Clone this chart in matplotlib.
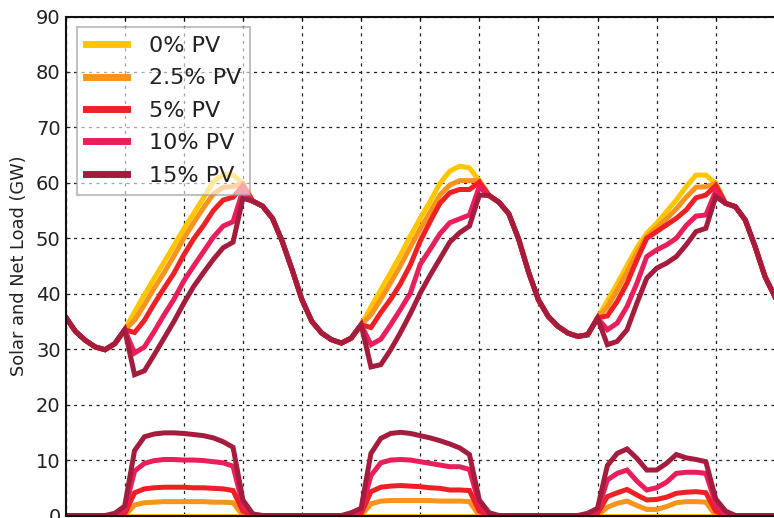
import matplotlib
matplotlib.use("Agg")
import matplotlib.pyplot as plt
import numpy as np

hours = list(range(73))

labels = ["0% PV", "2.5% PV", "5% PV", "10% PV", "15% PV"]
colors = ["#FFC600", "#F7941D", "#EE2026", "#E91E5A", "#A51C3C"]

load = [35.8, 33.2, 31.6, 30.4, 29.9, 31.0, 33.5, 36.7, 39.8, 42.8, 45.7, 48.7, 51.7, 54.5, 57.3, 60.2, 61.5, 61.4, 59.9,
        56.7, 55.8, 53.6, 49.4, 44.3, 38.9, 35.0, 32.9, 31.7, 31.1, 32.0,
        34.4, 37.6, 40.7, 43.8, 47.0, 50.4, 53.6, 56.6, 59.9, 62.1, 63.0, 62.7, 60.4,
        57.7, 56.5, 54.4, 49.8, 43.9, 38.9, 35.9, 34.1, 32.9, 32.3, 32.6,
        35.6, 38.7, 41.8, 45.1, 48.3, 50.9, 52.7, 54.8, 56.9, 59.3, 61.4, 61.4, 59.9,
        56.3, 55.7, 53.3, 48.5, 43.1, 39.5]

net_2_5 = [35.8, 33.2, 31.6, 30.4, 29.9, 31.0, 33.5, 35.2, 38.0, 41.0, 43.8, 46.8, 50.0, 52.8, 55.5, 58.0, 59.2, 59.3, 59.9,
           56.7, 55.8, 53.6, 49.4, 44.3, 38.9, 35.0, 32.9, 31.7, 31.1, 32.0,
           34.4, 36.2, 39.0, 42.0, 45.1, 48.4, 51.7, 54.7, 57.8, 59.6, 60.4, 60.4, 60.4,
           57.7, 56.5, 54.4, 49.8, 43.9, 38.9, 35.9, 34.1, 32.9, 32.3, 32.6,
           35.6, 37.6, 40.6, 43.9, 47.3, 50.3, 51.9, 53.5, 55.3, 57.4, 59.2, 59.3, 59.9,
           56.3, 55.7, 53.3, 48.5, 43.1, 39.5]

net_5 = [35.8, 33.2, 31.6, 30.4, 29.9, 31.0, 33.5, 33.0, 35.2, 38.2, 41.0, 43.7, 47.0, 49.9, 52.3, 55.0, 56.9, 57.4, 59.5,
         56.7, 55.8, 53.6, 49.4, 44.3, 38.9, 35.0, 32.9, 31.7, 31.1, 32.0,
         34.4, 33.9, 36.6, 39.0, 41.8, 45.2, 49.5, 53.0, 56.3, 58.2, 58.8, 58.8, 60.1,
         57.7, 56.5, 54.4, 49.8, 43.9, 38.9, 35.9, 34.1, 32.9, 32.3, 32.6,
         35.6, 36.0, 38.6, 41.9, 46.1, 50.0, 51.2, 52.4, 53.6, 55.1, 57.3, 57.8, 59.5,
         56.3, 55.7, 53.3, 48.5, 43.1, 39.5]

net_10 = [35.8, 33.2, 31.6, 30.4, 29.9, 31.0, 33.5, 29.3, 30.4, 33.2, 36.2, 39.0, 42.3, 45.0, 47.6, 50.2, 52.2, 53.0, 58.6,
          56.7, 55.8, 53.6, 49.4, 44.3, 38.9, 35.0, 32.9, 31.7, 31.1, 32.0,
          34.4, 30.8, 31.8, 34.4, 37.2, 40.1, 45.3, 48.0, 50.8, 52.8, 53.5, 54.2, 59.3,
          57.7, 56.5, 54.4, 49.8, 43.9, 38.9, 35.9, 34.1, 32.9, 32.3, 32.6,
          35.6, 33.5, 34.7, 37.7, 41.9, 46.7, 47.9, 48.8, 50.0, 52.3, 54.0, 54.2, 58.5,
          56.3, 55.7, 53.3, 48.5, 43.1, 39.5]

net_15 = [35.8, 33.2, 31.6, 30.4, 29.9, 31.0, 33.5, 25.4, 26.1, 29.0, 32.0, 35.0, 38.3, 41.3, 43.8, 46.2, 48.3, 49.3, 57.2,
          56.7, 55.8, 53.6, 49.4, 44.3, 38.9, 35.0, 32.9, 31.7, 31.1, 32.0,
          34.4, 26.8, 27.2, 29.9, 33.0, 36.4, 40.1, 43.3, 46.3, 49.3, 51.0, 52.2, 57.8,
          57.7, 56.5, 54.4, 49.8, 43.9, 38.9, 35.9, 34.1, 32.9, 32.3, 32.6,
          35.6, 30.8, 31.4, 33.5, 38.3, 42.8, 44.6, 45.5, 46.7, 48.8, 51.2, 51.8, 57.5,
          56.3, 55.7, 53.3, 48.5, 43.1, 39.5]

solar_0 = [0.0] * 73

solar_2_5 = [0, 0, 0, 0, 0, 0, 0, 1.9, 2.3, 2.4, 2.5, 2.5, 2.5, 2.5, 2.5, 2.4, 2.4, 2.3, 0,
             0, 0, 0, 0, 0, 0, 0, 0, 0, 0, 0,
             0, 2.1, 2.6, 2.7, 2.7, 2.7, 2.7, 2.7, 2.6, 2.6, 2.6, 2.5, 0,
             0, 0, 0, 0, 0, 0, 0, 0, 0, 0, 0,
             0, 1.5, 2.2, 2.6, 1.8, 1.1, 1.1, 1.6, 2.3, 2.5, 2.5, 2.4, 0,
             0, 0, 0, 0, 0, 0]

solar_5 = [0, 0, 0, 0, 0, 0, 0.3, 4.1, 4.8, 5.0, 5.1, 5.1, 5.1, 5.0, 5.0, 4.9, 4.8, 4.5, 0.8,
           0, 0, 0, 0, 0, 0, 0, 0, 0, 0, 0,
           0.4, 4.3, 5.1, 5.3, 5.4, 5.3, 5.2, 5.0, 4.9, 4.6, 4.6, 4.5, 0.8,
           0, 0, 0, 0, 0, 0, 0, 0, 0, 0, 0,
           0.4, 3.4, 4.1, 4.7, 3.7, 2.8, 2.9, 3.3, 4.0, 4.2, 4.3, 4.1, 0.8,
           0, 0, 0, 0, 0, 0]

solar_10 = [0, 0, 0, 0, 0, 0, 1.0, 8.0, 9.4, 9.9, 10.1, 10.1, 10.0, 10.0, 9.9, 9.7, 9.5, 8.9, 1.8,
            0, 0, 0, 0, 0, 0, 0, 0, 0, 0, 0,
            0.8, 7.2, 9.5, 10.0, 10.1, 10.0, 9.7, 9.4, 9.1, 8.8, 8.8, 8.3, 2.0,
            0, 0, 0, 0, 0, 0, 0, 0, 0, 0, 0,
            0.8, 6.4, 7.6, 8.2, 6.2, 4.6, 5.0, 6.0, 7.6, 7.8, 7.8, 7.6, 2.2,
            0, 0, 0, 0, 0, 0]

solar_15 = [0, 0, 0, 0, 0, 0.4, 1.7, 11.7, 14.2, 14.7, 14.9, 14.9, 14.8, 14.6, 14.4, 14.0, 13.3, 12.3, 2.8,
            0.3, 0, 0, 0, 0, 0, 0, 0, 0, 0, 0.5,
            1.3, 11.2, 13.9, 14.8, 15.0, 14.8, 14.4, 14.0, 13.5, 12.9, 12.2, 11.0, 2.8,
            0.5, 0, 0, 0, 0, 0, 0, 0, 0, 0, 0.4,
            1.3, 9.0, 11.2, 12.0, 10.3, 8.2, 8.2, 9.4, 11.0, 10.4, 10.1, 9.7, 3.0,
            0.8, 0, 0, 0, 0, 0]

y_ticks = [0, 10, 20, 30, 40, 50, 60, 70, 80, 90]

nets = [load, net_2_5, net_5, net_10, net_15]
solars = [solar_0, solar_2_5, solar_5, solar_10, solar_15]

fig = plt.figure(figsize=(7.74, 5.18), dpi=100)
W, H = 774.0, 518.0
px_per_h = 9.85
x_end = 76
ax = fig.add_axes([65.6 / W, 2.5 / H, px_per_h * x_end / W, 499.0 / H])

lw = 3.6
for net, sol, c, lab in zip(nets, solars, colors, labels):
    ax.plot(hours, net, color=c, lw=lw, label=lab, solid_joinstyle="miter")
    ax.plot(hours, sol, color=c, lw=lw, solid_joinstyle="miter")

ax.set_xlim(0, x_end)
ax.set_ylim(0, 90)
ax.set_xticks(np.arange(0, x_end + 1, 6))
ax.set_yticks(y_ticks)
ax.tick_params(axis="x", labelbottom=False, direction="in", top=True, length=3)
ax.tick_params(axis="y", direction="in", right=True, length=3, labelsize=14, colors="#222222")
ax.grid(True, color="#222222", linestyle=(0, (2.5, 3.5)), linewidth=0.9)
for s in ax.spines.values():
    s.set_linewidth(1.5)
    s.set_color("#111111")

ax.set_ylabel("Solar and Net Load (GW)", fontsize=12.8, color="#222222", labelpad=6)

leg = ax.legend(loc="upper left", bbox_to_anchor=(77 / W, 1 - 27 / H), bbox_transform=fig.transFigure,
                borderaxespad=0, fontsize=16, handlelength=1.85, handletextpad=1.0,
                labelspacing=0.56, borderpad=0.4, fancybox=False, framealpha=0.6)
leg.get_frame().set_edgecolor("#999999")
leg.get_frame().set_linewidth(1.5)
for t in leg.get_texts():
    t.set_color("#222222")
for h in leg.get_lines():
    h.set_linewidth(5)

fig.savefig("out.png", dpi=100)
